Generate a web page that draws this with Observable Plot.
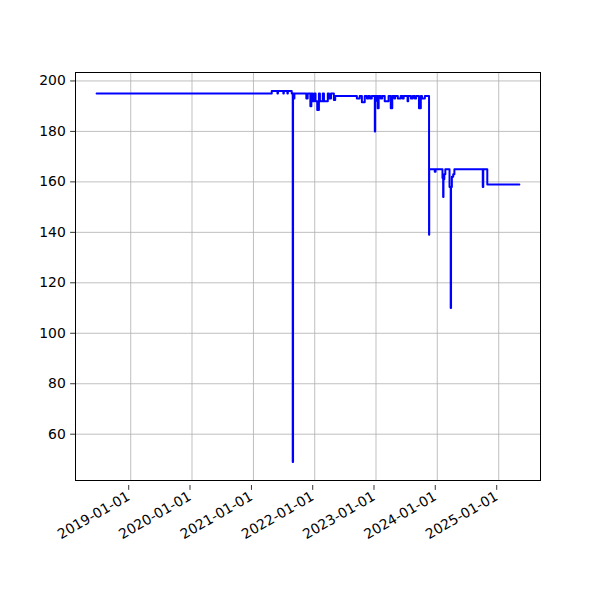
<!DOCTYPE html>
<html>
<head>
<meta charset="utf-8">
<script src="https://cdn.jsdelivr.net/npm/d3@7"></script>
<script src="https://cdn.jsdelivr.net/npm/@observablehq/plot@0.6"></script>
<style>
  html, body { margin: 0; padding: 0; background: white; }
  #chart { width: 600px; height: 600px; }
</style>
</head>
<body>
<div id="chart"></div>
<script>
// Change points of the series (value holds until the next date)
const dates = [
  "2018-06-12", "2021-04-20", "2021-05-24", "2021-05-27", "2021-06-28", "2021-07-01",
  "2021-07-22", "2021-07-25", "2021-08-17", "2021-08-23", "2021-08-25", "2021-08-30",
  "2021-09-02", "2021-11-12", "2021-11-20", "2021-12-06", "2021-12-12", "2021-12-18",
  "2021-12-28", "2022-01-06", "2022-01-16", "2022-01-26", "2022-02-01", "2022-02-18",
  "2022-02-25", "2022-03-20", "2022-03-27", "2022-04-08", "2022-04-25", "2022-05-03",
  "2022-09-09", "2022-09-26", "2022-10-09", "2022-10-26", "2022-11-08", "2022-11-17",
  "2022-11-26", "2022-12-07", "2022-12-25", "2022-12-27", "2022-12-30", "2023-01-03",
  "2023-01-11", "2023-01-17", "2023-01-29", "2023-02-07", "2023-02-22", "2023-03-17",
  "2023-03-30", "2023-04-08", "2023-04-20", "2023-04-25", "2023-05-11", "2023-05-28",
  "2023-06-08", "2023-06-15", "2023-07-08", "2023-07-12", "2023-07-28", "2023-08-08",
  "2023-08-20", "2023-08-28", "2023-09-14", "2023-09-25", "2023-10-02", "2023-10-19",
  "2023-11-13", "2023-11-14", "2023-12-17", "2023-12-22", "2024-02-01", "2024-02-05",
  "2024-02-07", "2024-02-12", "2024-02-18", "2024-03-14", "2024-03-21", "2024-03-23",
  "2024-03-28", "2024-04-05", "2024-04-12", "2024-09-28", "2024-10-01", "2024-10-25",
  "2025-05-04"
];
const values = [
  195, 196, 195, 196, 195, 196,
  195, 196, 195, 49, 195, 193,
  195, 193, 195, 190, 195, 192,
  195, 192, 188.5, 195, 192, 195,
  192, 195, 193, 195, 192.5, 194,
  193, 194, 191.6, 194, 193, 194,
  193, 194, 180, 192, 194, 194,
  189.2, 194, 193, 194, 192, 194,
  189.2, 194, 193, 194, 193, 194,
  193, 194, 192, 194, 193, 194,
  193, 194, 189.2, 194, 193, 194,
  139, 165, 164, 165, 161.5, 154,
  161, 163, 165, 158, 110, 158,
  162, 163, 165, 158, 165, 159,
  159
];
const yearTicks = ["2019-01-01", "2020-01-01", "2021-01-01", "2022-01-01", "2023-01-01", "2024-01-01", "2025-01-01"];
const yTicks = [60, 80, 100, 120, 140, 160, 180, 200];

const parse = d3.utcParse("%Y-%m-%d");
const data = dates.map((d, i) => ({date: parse(d), value: values[i]}));
const xt = yearTicks.map(parse);

const [t0, t1] = d3.extent(data, d => d.date);
const padX = (t1 - t0) * 0.05;
const [v0, v1] = d3.extent(data, d => d.value);
const padY = (v1 - v0) * 0.05;

const chart = Plot.plot({
  width: 600,
  height: 600,
  marginLeft: 75,
  marginRight: 60,
  marginTop: 72,
  marginBottom: 120,
  style: {fontFamily: "DejaVu Sans", fontSize: "13.9px", color: "black", background: "white", overflow: "visible"},
  x: {type: "utc", domain: [new Date(+t0 - padX), new Date(+t1 + padX)]},
  y: {domain: [v0 - padY, v1 + padY]},
  marks: [
    Plot.gridX(xt, {stroke: "#b0b0b0", strokeOpacity: 1, strokeWidth: 0.8}),
    Plot.gridY(yTicks, {stroke: "#b0b0b0", strokeOpacity: 1, strokeWidth: 0.8}),
    Plot.lineY(data, {x: "date", y: "value", stroke: "#0000ff", strokeWidth: 2, curve: "step-after"}),
    Plot.frame({stroke: "black", strokeWidth: 1}),
    Plot.axisX(xt, {tickFormat: d3.utcFormat("%Y-%m-%d"), tickRotate: -30, tickSize: 4.86, tickPadding: 4.86, dx: -2, dy: 5, label: null, stroke: "black", strokeWidth: 0.8}),
    Plot.axisY(yTicks, {tickSize: 4.86, tickPadding: 4.86, label: null, stroke: "black", strokeWidth: 0.8})
  ]
});
document.getElementById("chart").appendChild(chart);
</script>
</body>
</html>
